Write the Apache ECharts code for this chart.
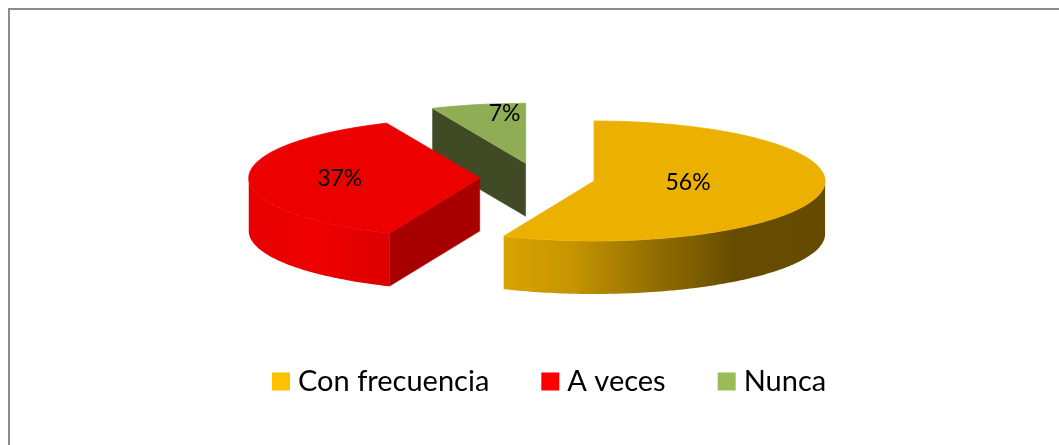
<!DOCTYPE html>
<html>
<head>
<meta charset="utf-8">
<style>
  html, body { margin: 0; padding: 0; background: #fff; }
  #chart { width: 1059px; height: 445px; }
</style>
</head>
<body>
<div id="chart"></div>
<script src="https://cdn.jsdelivr.net/npm/echarts@6/dist/echarts.min.js"></script>
<script>
// datos (en %)
var categories = ['Con frecuencia', 'A veces', 'Nunca'];
var values = [56.4, 37, 6.6];
var colors = ['#ffc000', '#ff0000', '#9bbb59'];

// colores de las caras 3D
var topColors = ['#ecb100', '#ec0000', '#8fad55'];
var cutColors = ['#644b00', '#a80000', '#404a24'];
var wallStops = [
  [{ offset: 0, color: '#d9a400' }, { offset: 0.2, color: '#c79600' }, { offset: 0.45, color: '#967100' }, { offset: 0.72, color: '#664c00' }, { offset: 1, color: '#644b00' }],
  [{ offset: 0, color: '#e80000' }, { offset: 0.5, color: '#ee0000' }, { offset: 1, color: '#dc0000' }],
  [{ offset: 0, color: '#404a24' }, { offset: 1, color: '#404a24' }]
];

// geometria de la torta
var center = [537.5, 178];
var rx = 231, ry = 60, depth = 53, explode = 0.25;
// posicion de las etiquetas respecto al centro de cada porcion
var labelOffsets = [[94, 2], [-140, 0], [-21, -50]];

var total = values.reduce(function (a, b) { return a + b; }, 0);

function rim(c, deg, dy) {
  var r = deg * Math.PI / 180;
  return [c[0] + rx * Math.sin(r), c[1] - ry * Math.cos(r) + (dy || 0)];
}

function arcPoints(c, from, to, dy) {
  var pts = [];
  var steps = Math.max(2, Math.ceil(Math.abs(to - from)));
  for (var i = 0; i <= steps; i++) {
    pts.push(rim(c, from + (to - from) * i / steps, dy));
  }
  return pts;
}

function cutWall(c, deg, color) {
  var p = rim(c, deg);
  return {
    type: 'polygon',
    shape: { points: [c, p, [p[0], p[1] + depth], [c[0], c[1] + depth]] },
    style: { fill: color, stroke: color, lineWidth: 0.5 }
  };
}

function renderSlice(index) {
  return function (params, api) {
    var before = values.slice(0, index).reduce(function (a, b) { return a + b; }, 0);
    var start = before / total * 360;
    var end = start + api.value(0) / total * 360;
    var mid = (start + end) / 2 * Math.PI / 180;
    var c = [
      center[0] + explode * rx * Math.sin(mid),
      center[1] - explode * ry * Math.cos(mid)
    ];
    var children = [];

    // pared exterior: solo la parte delantera del borde
    var wallFrom = Math.max(start, 90), wallTo = Math.min(end, 270);
    if (wallTo > wallFrom) {
      var upper = arcPoints(c, wallFrom, wallTo, 0);
      var lower = arcPoints(c, wallTo, wallFrom, depth);
      children.push({
        type: 'polygon',
        shape: { points: upper.concat(lower) },
        style: { fill: new echarts.graphic.LinearGradient(0, 0, 1, 0, wallStops[index]) }
      });
    }

    // paredes de corte que miran hacia el frente
    if (Math.sin(start * Math.PI / 180) < -0.001) {
      children.push(cutWall(c, start, cutColors[index]));
    }
    if (Math.sin(end * Math.PI / 180) > 0.001) {
      children.push(cutWall(c, end, cutColors[index]));
    }

    // cara superior, con trazo fino para tapar la costura con la pared
    children.push({
      type: 'polygon',
      shape: { points: [c].concat(arcPoints(c, start, end, 0)) },
      style: { fill: topColors[index], stroke: topColors[index], lineWidth: 0.8 }
    });

    children.push({
      type: 'text',
      style: {
        text: api.value(0).toFixed(0) + '%',
        x: c[0] + labelOffsets[index][0],
        y: c[1] + labelOffsets[index][1],
        fill: '#000',
        font: '23px Lato',
        align: 'center',
        verticalAlign: 'middle'
      }
    });

    return { type: 'group', children: children };
  };
}

var chart = echarts.init(document.getElementById('chart'));
chart.setOption({
  animation: false,
  backgroundColor: '#fff',
  graphic: [
    { type: 'rect', shape: { x: 8, y: 8, width: 1051, height: 2 }, style: { fill: '#8c8c8c' } },
    { type: 'rect', shape: { x: 8, y: 8, width: 2, height: 437 }, style: { fill: '#8c8c8c' } }
  ],
  legend: {
    data: categories,
    left: 267,
    top: 362,
    icon: 'rect',
    itemWidth: 18,
    itemHeight: 18,
    itemGap: 52,
    selectedMode: false,
    textStyle: {
      fontFamily: 'Lato',
      fontSize: 29,
      color: '#000',
      padding: [0, 0, 0, 3]
    }
  },
  // la serie de atras se dibuja primero
  series: categories.map(function (name, i) {
    return {
      type: 'custom',
      name: name,
      coordinateSystem: 'none',
      z: [7, 4, 3][i],
      silent: true,
      itemStyle: { color: colors[i] },
      renderItem: renderSlice(i),
      data: [[values[i]]]
    };
  })
});
</script>
</body>
</html>
